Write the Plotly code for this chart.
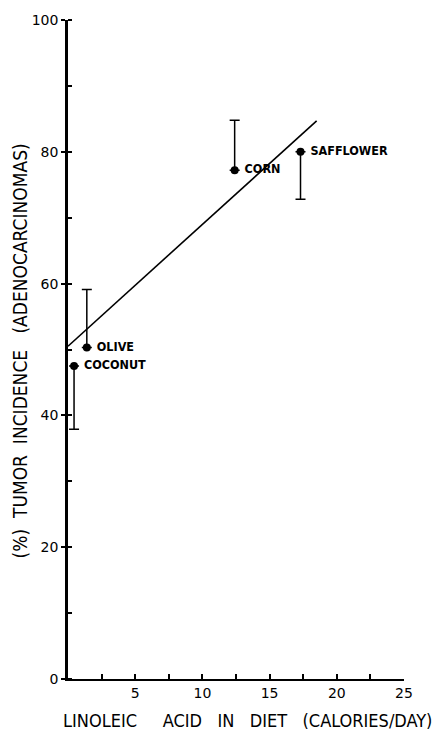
import plotly.graph_objects as go

# Data
oils = ["COCONUT", "OLIVE", "CORN", "SAFFLOWER"]
linoleic = [0.45, 1.4, 12.4, 17.3]
incidence = [47.5, 50.3, 77.2, 80.0]
err_plus = [0, 8.8, 7.6, 0]
err_minus = [9.6, 0, 0, 7.2]

line_x = [0, 18.5]
line_y = [50.5, 84.7]

x_tickvals = [5, 10, 15, 20, 25]
y_tickvals = [0, 20, 40, 60, 80, 100]

FONT = "DejaVu Sans"
NARROW = "DejaVu Sans Condensed, DejaVu Sans"
NB = "\u00a0"

fig = go.Figure()

fig.add_trace(go.Scatter(
    x=line_x, y=line_y, mode="lines",
    line=dict(color="black", width=1.6),
    hoverinfo="skip", showlegend=False,
))

fig.add_trace(go.Scatter(
    x=linoleic, y=incidence, mode="markers+text",
    text=[NB + t for t in oils], textposition="middle right",
    textfont=dict(family=NARROW, size=12.5, color="black", weight="bold"),
    marker=dict(color="black", size=8),
    error_y=dict(type="data", symmetric=False, array=err_plus, arrayminus=err_minus,
                 color="black", thickness=1.5, width=5),
    showlegend=False,
))

fig.update_layout(
    width=438, height=734,
    margin=dict(l=68, r=34, t=15, b=55),
    paper_bgcolor="white", plot_bgcolor="white",
    font=dict(family=FONT, color="black", size=14),
    xaxis=dict(
        range=[0, 25], showgrid=False, zeroline=False,
        showline=True, linecolor="black", linewidth=2,
        tickmode="array", tickvals=x_tickvals,
        ticks="inside", ticklen=5, tickwidth=1.5, tickcolor="black",
        minor=dict(tickmode="linear", tick0=0, dtick=2.5, ticks="inside",
                   ticklen=5, tickwidth=1.5, tickcolor="black"),
        tickfont=dict(family=FONT, size=14),
    ),
    yaxis=dict(
        range=[0, 100], showgrid=False, zeroline=False,
        showline=True, linecolor="black", linewidth=2.5,
        tickmode="array", tickvals=y_tickvals,
        ticks="outside", ticklen=4, tickwidth=1.5, tickcolor="black",
        minor=dict(tickmode="linear", tick0=0, dtick=10, ticks="inside",
                   ticklen=4, tickwidth=1.5, tickcolor="black"),
        tickfont=dict(family=FONT, size=14),
    ),
    annotations=[
        dict(text="LINOLEIC" + NB * 5 + "ACID" + NB * 3 + "IN" + NB * 3 + "DIET" + NB * 3 + "(CALORIES/DAY)",
             xref="paper", yref="paper", x=0.533, y=0, yshift=-41,
             xanchor="center", yanchor="middle", showarrow=False,
             font=dict(family=NARROW, size=18)),
        dict(text="(%)" + NB * 2 + "TUMOR" + NB * 2 + "INCIDENCE" + NB * 3 + "(ADENOCARCINOMAS)",
             xref="paper", yref="paper", x=0, xshift=-48, y=0.497,
             xanchor="center", yanchor="middle", textangle=-90, showarrow=False,
             font=dict(family=NARROW, size=19)),
    ],
)

fig.write_html("out.html")
